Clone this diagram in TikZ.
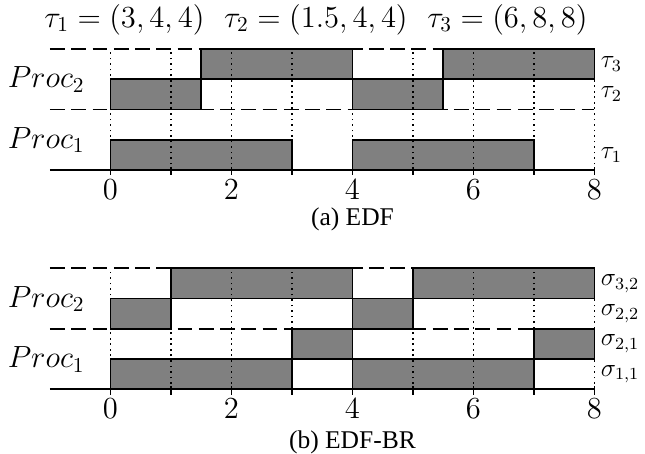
\documentclass[tikz,border=0pt]{standalone}
\usepackage[no-math]{fontspec}
\usepackage{tikz}
\usetikzlibrary{positioning}
\newfontfamily\capfont{Liberation Serif}
\definecolor{BarGray}{RGB}{128,128,128}
\tikzset{
    taskbar/.style={draw, thick, fill=BarGray},
    gridline/.style={line width=0.8pt, dash pattern=on 0.8pt off 1.8pt},
    sepline/.style={thick, dash pattern=on 7pt off 3pt},
    axisline/.style={thick},
    tickmark/.style={thick},
    titlelab/.style={font=\Large, inner sep=0pt},
    ticklab/.style={font=\Large, inner sep=0pt, anchor=base},
    proclab/.style={font=\Large, inner sep=0pt, anchor=base east},
    tasklab/.style={font=\large, inner sep=0pt, anchor=west},
    caption/.style={font=\large, inner sep=0pt, anchor=base},
}

\begin{document}
\begin{tikzpicture}[node distance=0.31cm]
\useasboundingbox (-1.826,-4.694) rectangle (8.835,2.81);

% task set
\node[titlelab, anchor=base west] (tau1) at (-1.10,2.36) {$\tau_1=(3,4,4)$};
\node[titlelab, right=of tau1] (tau2) {$\tau_2=(1.5,4,4)$};
\node[titlelab, right=of tau2] (tau3) {$\tau_3=(6,8,8)$};

% (a) EDF
\begin{scope}
\foreach \a/\b/\y in {1.5/4/1.5, 5.5/8/1.5, 0/1.5/1, 4/5.5/1, 0/3/0, 4/7/0}
  \draw[taskbar] (\a,\y) rectangle (\b,\y+0.5);
\foreach \x in {0,...,8}
  \draw[gridline] (\x,0) -- (\x,2);
\draw[sepline] (-1,2) -- (8,2);
\draw[sepline] (-1,1) -- (8,1);
\draw[axisline] (-1,0) -- (8,0);
\foreach \x in {0,...,8}
  \draw[tickmark] (\x,0.05) -- (\x,-0.09);
\foreach \x in {0,2,...,8}
  \node[ticklab] (a\x) at (\x,-0.48) {$\x$};

\node[proclab] (aproc2) at (-0.42,1.36) {$Proc_2$};
\node[proclab] (aproc1) at (-0.42,0.36) {$Proc_1$};
\node[tasklab] (atau3) at (8.1,1.75) {$\tau_3$};
\node[tasklab] (atau2) at (8.1,1.25) {$\tau_2$};
\node[tasklab] (atau1) at (8.1,0.25) {$\tau_1$};
\node[caption] (capa) at (4,-0.91) {\capfont (a) EDF};
\end{scope}

% (b) EDF-BR
\begin{scope}[yshift=-3.625cm]
\foreach \a/\b/\y in {1/4/1.5, 5/8/1.5, 0/1/1, 4/5/1, 3/4/0.5, 7/8/0.5, 0/3/0, 4/7/0}
  \draw[taskbar] (\a,\y) rectangle (\b,\y+0.5);
\foreach \x in {0,...,8}
  \draw[gridline] (\x,0) -- (\x,2);
\draw[sepline] (-1,2) -- (8,2);
\draw[sepline] (-1,1) -- (8,1);
\draw[axisline] (-1,0) -- (8,0);
\foreach \x in {0,...,8}
  \draw[tickmark] (\x,0.05) -- (\x,-0.09);
\foreach \x in {0,2,...,8}
  \node[ticklab] (b\x) at (\x,-0.48) {$\x$};

\node[proclab] (bproc2) at (-0.42,1.36) {$Proc_2$};
\node[proclab] (bproc1) at (-0.42,0.36) {$Proc_1$};
\node[tasklab] (bsig32) at (8.1,1.75) {$\sigma_{3,2}$};
\node[tasklab] (bsig22) at (8.1,1.25) {$\sigma_{2,2}$};
\node[tasklab] (bsig21) at (8.1,0.75) {$\sigma_{2,1}$};
\node[tasklab] (bsig11) at (8.1,0.25) {$\sigma_{1,1}$};
\node[caption] (capb) at (4,-0.97) {\capfont (b) EDF-BR};
\end{scope}
\end{tikzpicture}
\end{document}
